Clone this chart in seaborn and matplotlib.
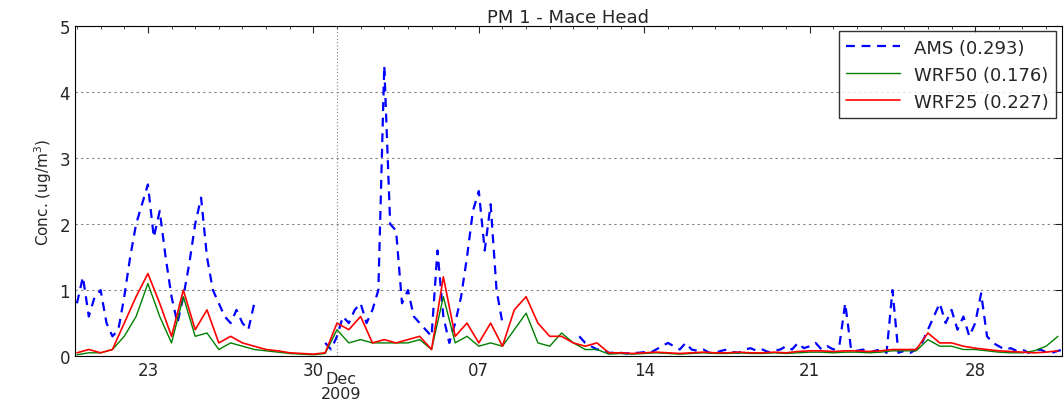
import numpy as np
import pandas as pd
import matplotlib
matplotlib.use("Agg")
import matplotlib.pyplot as plt
import matplotlib.dates as mdates
import seaborn as sns

nan = np.nan
# AMS, 6-hourly from 2009-11-20 00:00
ams = [
    0.8, 1.2, 0.6, 0.9,   # Nov 20
    1.0, 0.5, 0.3, 0.4,   # Nov 21
    0.9, 1.5, 2.0, 2.3,   # Nov 22
    2.6, 1.8, 2.2, 1.5,   # Nov 23
    0.9, 0.5, 0.9, 1.4,   # Nov 24
    2.0, 2.4, 1.5, 1.0,   # Nov 25
    0.8, 0.6, 0.5, 0.7,   # Nov 26
    0.5, 0.4, 0.8, nan,   # Nov 27
    nan, nan, nan, nan,   # Nov 28
    nan, nan, nan, nan,   # Nov 29
    nan, nan, 0.2, 0.1,   # Nov 30
    0.3, 0.6, 0.5, 0.7,   # Dec 1
    0.8, 0.5, 0.7, 1.0,   # Dec 2
    4.4, 2.0, 1.9, 0.8,   # Dec 3
    1.0, 0.6, 0.5, 0.4,   # Dec 4
    0.3, 1.6, 0.6, 0.2,   # Dec 5
    0.5, 0.9, 1.5, 2.2,   # Dec 6
    2.5, 1.6, 2.3, 1.0,   # Dec 7
    0.5, nan, nan, nan,   # Dec 8
    nan, nan, nan, nan,   # Dec 9
    nan, nan, nan, nan,   # Dec 10
    nan, 0.3, 0.2, 0.15,  # Dec 11
    0.1, 0.1, 0.05, 0.05, # Dec 12
    0.05, 0.04, 0.05, 0.05,  # Dec 13
    0.06, 0.05, 0.1, 0.15,   # Dec 14
    0.2, 0.15, 0.1, 0.2,     # Dec 15
    0.1, 0.08, 0.1, 0.05,    # Dec 16
    0.05, 0.08, 0.1, 0.06,   # Dec 17
    0.05, 0.1, 0.12, 0.08,   # Dec 18
    0.1, 0.06, 0.08, 0.1,    # Dec 19
    0.15, 0.1, 0.2, 0.12,    # Dec 20
    0.15, 0.2, 0.1, 0.15,    # Dec 21
    0.1, 0.15, 0.8, 0.1,     # Dec 22
    0.08, 0.1, 0.05, 0.08,   # Dec 23
    0.1, 0.05, 1.0, 0.05,    # Dec 24
    0.08, 0.05, 0.1, 0.2,    # Dec 25
    0.4, 0.6, 0.8, 0.5,      # Dec 26
    0.7, 0.4, 0.6, 0.3,      # Dec 27
    0.5, 0.95, 0.3, 0.2,     # Dec 28
    0.15, 0.1, 0.12, 0.08,   # Dec 29
    0.1, 0.05, 0.08, 0.1,    # Dec 30
    0.06, 0.05, 0.08, 0.1,   # Dec 31
]
# WRF runs, 12-hourly from 2009-11-20 00:00
wrf25 = [
    0.05, 0.1, 0.05, 0.1, 0.5, 0.9, 1.25, 0.8, 0.3, 1.0,
    0.4, 0.7, 0.2, 0.3, 0.2, 0.15, 0.1, 0.08, 0.05, 0.04,
    0.03, 0.05, 0.5, 0.4, 0.6, 0.2, 0.25, 0.2, 0.25, 0.3,
    0.1, 1.2, 0.3, 0.5, 0.2, 0.5, 0.15, 0.7, 0.9, 0.5,
    0.3, 0.3, 0.2, 0.15, 0.2, 0.05, 0.05, 0.04, 0.05, 0.06,
    0.05, 0.04, 0.05, 0.06, 0.05, 0.05, 0.06, 0.05, 0.05, 0.06,
    0.05, 0.07, 0.08, 0.08, 0.07, 0.08, 0.08, 0.07, 0.08, 0.1,
    0.1, 0.1, 0.35, 0.2, 0.2, 0.15, 0.12, 0.1, 0.08, 0.07,
    0.06, 0.05, 0.06, 0.08,
]
wrf50 = [
    0.02, 0.05, 0.05, 0.1, 0.3, 0.6, 1.1, 0.6, 0.2, 0.9,
    0.3, 0.35, 0.1, 0.2, 0.15, 0.1, 0.08, 0.06, 0.04, 0.03,
    0.02, 0.04, 0.4, 0.2, 0.25, 0.2, 0.2, 0.2, 0.2, 0.25,
    0.1, 0.9, 0.2, 0.3, 0.15, 0.2, 0.15, 0.4, 0.65, 0.2,
    0.15, 0.35, 0.2, 0.1, 0.1, 0.03, 0.04, 0.03, 0.04, 0.05,
    0.04, 0.03, 0.04, 0.05, 0.04, 0.04, 0.05, 0.04, 0.04, 0.05,
    0.04, 0.05, 0.06, 0.06, 0.05, 0.06, 0.06, 0.05, 0.06, 0.08,
    0.08, 0.08, 0.25, 0.15, 0.15, 0.1, 0.1, 0.08, 0.06, 0.05,
    0.05, 0.08, 0.15, 0.3,
]

t6 = pd.date_range("2009-11-20", periods=len(ams), freq="6h")
t12 = pd.date_range("2009-11-20", periods=len(wrf25), freq="12h")
df_ams = pd.DataFrame({"time": t6, "val": ams})
# split AMS into segments at missing values so gaps stay open
df_ams["seg"] = df_ams["val"].isna().cumsum()
df_ams = df_ams.dropna()
df_w = pd.DataFrame({"time": t12, "wrf25": wrf25, "wrf50": wrf50})

sns.set_style("white")
fig = plt.figure(figsize=(10.64, 4.10), dpi=100)
ax = fig.add_axes([0.0705, 0.129, 0.9275, 0.805])

sns.lineplot(data=df_ams, x="time", y="val", units="seg", estimator=None, ax=ax,
             color="blue", linestyle=(0, (4, 3)), linewidth=1.6, legend=False)
ax.plot([], [], color="blue", linestyle=(0, (4, 3)), linewidth=1.6, label="AMS (0.293)")
sns.lineplot(data=df_w, x="time", y="wrf50", ax=ax, color="green",
             linewidth=1.0, label="WRF50 (0.176)")
sns.lineplot(data=df_w, x="time", y="wrf25", ax=ax, color="red",
             linewidth=1.2, label="WRF25 (0.227)")

ax.set_xlim(pd.Timestamp("2009-11-19 22:00"), pd.Timestamp("2009-12-31 16:00"))
ax.set_ylim(0, 5)
ax.set_yticks([0, 1, 2, 3, 4, 5])
ax.yaxis.grid(True, linestyle=(0, (2, 3)), color="gray", linewidth=0.8)

ticks = [pd.Timestamp(s) for s in ["2009-11-23", "2009-11-30", "2009-12-07",
                                   "2009-12-14", "2009-12-21", "2009-12-28"]]
ax.set_xticks(ticks)
ax.set_xticklabels(["23", "30", "07", "14", "21", "28"])
dec1 = pd.Timestamp("2009-12-01")
ax.axvline(dec1, color="gray", linestyle=(0, (1, 2)), linewidth=0.8)
ax.text(dec1 + pd.Timedelta(hours=4), -0.22, "Dec\n2009", ha="center", va="top",
        fontsize=11.5, linespacing=1.0)
ax.xaxis.set_minor_locator(mdates.DayLocator())
ax.tick_params(axis="both", which="both", direction="in", top=True, right=True,
               labelsize=12, length=5)
ax.tick_params(which="minor", length=2)
for s in ax.spines.values():
    s.set_color("black")

ax.set_xlabel("")
ax.set_ylabel("Conc. (ug/m$^3$)", fontsize=11)
ax.set_title("PM 1 - Mace Head", fontsize=13, pad=3)
leg = ax.legend(loc="upper right", fontsize=13, frameon=True, fancybox=False,
                edgecolor="black", handlelength=3, borderaxespad=0.3)
leg.get_frame().set_linewidth(1.0)

fig.savefig("out.png", dpi=100)
